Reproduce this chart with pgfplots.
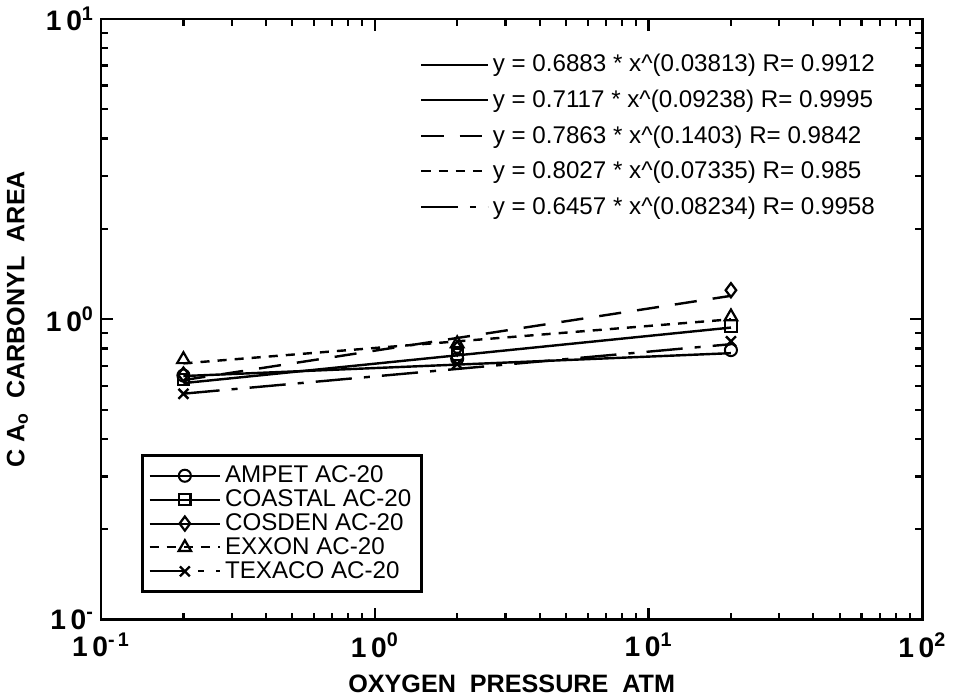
\documentclass[border=0pt]{standalone}
\usepackage{pgfplots}
\pgfplotsset{compat=1.18}
\usepackage{fontspec}
\setmainfont{Liberation Sans}
\tikzset{
  texacodash/.style={dash pattern=on 18pt off 6pt on 3pt off 6pt},
  cosdendash/.style={dash pattern=on 11pt off 8pt},
  exxondash/.style={dash pattern=on 4.5pt off 4pt},
}
\begin{document}
\begin{tikzpicture}
\begin{axis}[
  width=408pt,height=298.5pt,scale only axis,
  xmode=log,ymode=log,xmin=0.1,xmax=100,ymin=0.1,ymax=10,
  axis line style={line width=1.3pt},
  major tick length=6pt, minor tick length=3.5pt,
  every tick/.style={line width=1.1pt,black},
  xtick={0.1,1,10,100},
  xticklabels={1\,0\textsuperscript{-\,1},1\,0\textsuperscript{0},1\,0\textsuperscript{1},1\,0\textsuperscript{2}},
  ytick={0.1,1,10},
  yticklabels={1\,0\textsuperscript{-},1\,0\textsuperscript{0},1\,0\textsuperscript{1}},
  tick label style={font=\bfseries\fontsize{14}{16}\selectfont},
  xticklabel style={yshift=-3pt},
  xtick pos=both, ytick pos=both,
  xlabel={\bfseries OXYGEN\ \ PRESSURE\ \ ATM},
  ylabel={\bfseries C A\textsubscript{o}\ \ CARBONYL\ \ AREA},
  label style={font=\bfseries\fontsize{12.5}{14}\selectfont},
  xlabel style={yshift=-2pt},
  ylabel style={yshift=2pt},
  legend style={at={(0.049,0.045)},anchor=south west,draw=black,line width=1.3pt,
    font=\fontsize{12}{13}\selectfont, row sep=-2pt, inner sep=3pt},
  legend cell align=left,
  legend image code/.code={\draw[#1,sharp plot,line width=1pt,mark repeat=2,mark phase=2] plot coordinates {(0pt,0pt) (17.5pt,0pt) (35pt,0pt)};},
]
\addplot[only marks, mark=o, mark size=3pt, mark options={solid,fill=white,line width=1pt}] coordinates {(0.2,0.65) (2,0.74) (20,0.79)};
\addlegendentry{AMPET AC-20}
\addplot[only marks, mark=square, mark size=2.8pt, mark options={solid,fill=white,line width=1pt}] coordinates {(0.2,0.63) (2,0.765) (20,0.95)};
\addlegendentry{COASTAL AC-20}
\addplot[only marks, mark=diamond, mark size=3.5pt, mark options={solid,fill=white,line width=1.1pt}] coordinates {(0.2,0.655) (2,0.80) (20,1.25)};
\addlegendentry{COSDEN AC-20}
\addplot[only marks, exxondash, mark=triangle, mark size=3.6pt, mark options={solid,fill=white,line width=1.1pt}] coordinates {(0.2,0.735) (2,0.83) (20,1.02)};
\addlegendentry{EXXON AC-20}
\addplot[only marks, texacodash, mark=x, mark size=3.5pt, mark options={solid,line width=1.2pt}] coordinates {(0.2,0.565) (2,0.71) (20,0.845)};
\addlegendentry{TEXACO AC-20}
\end{axis}
\begin{axis}[
  width=408pt,height=298.5pt,scale only axis,
  xmode=log,ymode=log,xmin=0.1,xmax=100,ymin=0.1,ymax=10,
  hide axis,
  legend style={at={(0.955,0.955)},anchor=north east,draw=none,fill=none,
    font=\fontsize{12}{13.5}\selectfont, row sep=3.5pt},
  legend cell align=left,
  legend image code/.code={\draw[#1,line width=1pt] (0pt,0pt) -- (33pt,0pt);},
]
\addplot[line width=1.2pt, solid] coordinates {(0.2,0.6474) (20,0.7716)};
\addlegendentry{y = 0.6883 * x\textasciicircum(0.03813) R= 0.9912}
\addplot[line width=1.2pt, solid] coordinates {(0.2,0.6133) (20,0.9386)};
\addlegendentry{y = 0.7117 * x\textasciicircum(0.09238) R= 0.9995}
\addplot[line width=1.2pt, cosdendash] coordinates {(0.2,0.6274) (20,1.1971)};
\addlegendentry{y = 0.7863 * x\textasciicircum(0.1403) R= 0.9842}
\addplot[line width=1.2pt, exxondash] coordinates {(0.2,0.7134) (20,0.9999)};
\addlegendentry{y = 0.8027 * x\textasciicircum(0.07335) R= 0.985}
\addplot[line width=1.2pt, texacodash] coordinates {(0.2,0.5656) (20,0.8264)};
\addlegendentry{y = 0.6457 * x\textasciicircum(0.08234) R= 0.9958}
\end{axis}
\end{tikzpicture}
\end{document}
